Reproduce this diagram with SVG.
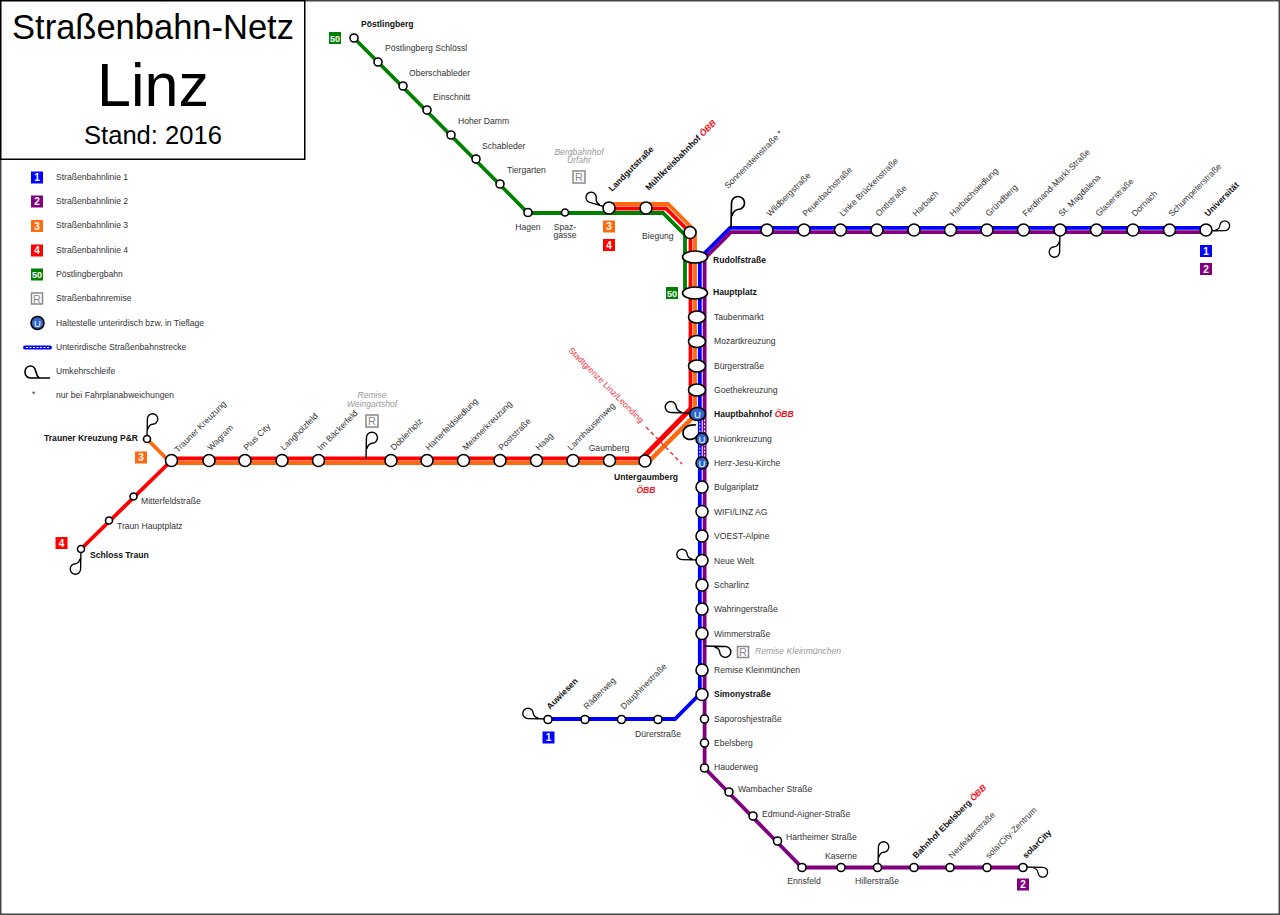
<svg xmlns="http://www.w3.org/2000/svg" width="1280" height="915" viewBox="0 0 1280 915">
<style>
text{font-family:"Liberation Sans",Arial,sans-serif;font-size:8.6px;fill:#333}
.b{font-weight:bold;fill:#111}
.g{font-style:italic;fill:#999}
.o{font-style:italic;font-weight:bold;fill:#f01020}
.st{fill:#fff;stroke:#000;stroke-width:1.6}
.ln{fill:none;stroke-width:3.8;stroke-linejoin:miter}
.dg{fill:none;stroke-width:5}
.lp{fill:none;stroke:#000;stroke-width:1.7}
.bd{font-weight:bold;font-size:10px;fill:#fff;text-anchor:middle}
.rb{fill:#fff;stroke:#888;stroke-width:1.5}
.rt{fill:#888;font-size:11px;text-anchor:middle}
.u{fill:#3366cc;stroke:#000;stroke-width:1.6}
.ut{fill:#fff;font-size:9.5px;text-anchor:middle}
.wd{fill:none;stroke:#fff;stroke-width:1;stroke-dasharray:2 1.5}
</style>
<defs>
<path id="lp" d="M0,0 L.5,-25 A6.5,6.5 0 1 1 7,-18.500 C4,-18 2,-16 1,-12"/>
</defs>
<rect x="0.75" y="0.75" width="1278.5" height="913.5" fill="#fff" stroke="#444" stroke-width="1.5"/>
<g id="title">
<rect x="0.75" y="0.75" width="304" height="158.5" fill="#fff" stroke="#000" stroke-width="1.5"/>
<text x="153" y="39" style="font-size:34.5px;fill:#000" text-anchor="middle">Straßenbahn-Netz</text>
<text x="153" y="106" style="font-size:61px;fill:#000" text-anchor="middle">Linz</text>
<text x="153" y="144" style="font-size:25.6px;fill:#000" text-anchor="middle">Stand: 2016</text>
</g>
<g id="legend">
<rect x="31" y="171.500" width="12" height="12" fill="#00f"/><text class="bd" x="37" y="181">1</text><text x="56" y="179.500">Straßenbahnlinie 1</text>
<rect x="31" y="195.500" width="12" height="12" fill="#800080"/><text class="bd" x="37" y="205">2</text><text x="56" y="204">Straßenbahnlinie 2</text>
<rect x="31" y="220" width="12" height="12" fill="#ff6a10"/><text class="bd" x="37" y="229.500">3</text><text x="56" y="228">Straßenbahnlinie 3</text>
<rect x="31" y="244.500" width="12" height="12" fill="#f00"/><text class="bd" x="37" y="254">4</text><text x="56" y="252.500">Straßenbahnlinie 4</text>
<rect x="31" y="268.500" width="12" height="12" fill="#008000"/><text class="bd" x="37" y="278" style="font-size:9px">50</text><text x="56" y="277">Pöstlingbergbahn</text>
<rect class="rb" x="31.500" y="293" width="11" height="11"/><text class="rt" x="37" y="302.500">R</text><text x="56" y="301">Straßenbahnremise</text>
<circle class="u" cx="37.500" cy="323" r="6.500"/><text class="ut" x="37.500" y="326.500">U</text><text x="56" y="325.500">Haltestelle unterirdisch bzw. in Tieflage</text>
<line x1="25" y1="347.500" x2="50" y2="347.500" stroke="#00f" stroke-width="4" stroke-linecap="round"/><line class="wd" x1="26" y1="347.500" x2="50" y2="347.500"/><text x="56" y="350">Unterirdische Straßenbahnstrecke</text>
<path class="lp" d="M50,378 H40 C38,378 37,376 36,372 C35,368 33,366 31,366 C27,366 25,369 25,372 C25,376 28,378 31,378 H40"/><text x="56" y="374">Umkehrschleife</text>
<text x="32" y="397">*</text><text x="56" y="398">nur bei Fahrplanabweichungen</text>
</g>
<g id="connectors">
<path class="ln" stroke="#008000" d="M354,38 L528,213 H663 L685,235 V293"/>
<path class="ln" stroke="#ff6a10" d="M609,204 H668 L695,231 V414 M647,463 H171 L147,439"/>
<path class="ln" stroke="#f00" d="M609,208.500 H666 L690.500,233 V409 M642,458.500 H175 L171,461 L81,549"/>
<path class="dg" stroke="#ff6a10" d="M695,415 L647,463"/>
<path class="dg" stroke="#f00" d="M691.500,408 L642,458.500"/>
<path class="ln" stroke="#00f" d="M1206,227.800 H730 L699.800,258 V694 L675,719 H548"/>
<path class="ln" stroke="#800080" d="M1206,232.200 H731 L704.600,258.500 V768 L802,867.500 H1023"/>
<path class="wd" d="M699.800,416 V468 M704.600,416 V468 M692,415 L645,462"/>
<line x1="646" y1="427" x2="682" y2="464" stroke="#f01020" stroke-width="1.2" stroke-dasharray="4 3"/>
<g class="lp">
<use href="#lp" transform="translate(731,228)"/>
<use href="#lp" transform="translate(1060,232) rotate(180) scale(.8)"/>
<use href="#lp" transform="translate(1206,231) rotate(90) scale(-.75,.75)"/>
<use href="#lp" transform="translate(609,208) rotate(-75) scale(.8)"/>
<use href="#lp" transform="translate(366,459) scale(.85)"/>
<use href="#lp" transform="translate(147,439) scale(.8)"/>
<use href="#lp" transform="translate(81,549) rotate(180) scale(.8)"/>
<use href="#lp" transform="translate(702,560) rotate(-90) scale(.8)"/>
<use href="#lp" transform="translate(692,413) rotate(-90) scale(.85)"/>
<path d="M696,425 C688,424 683,428 683,433 C683,439 690,441 695,438 L700,433"/>
<use href="#lp" transform="translate(704,646) rotate(90) scale(.85)"/>
<use href="#lp" transform="translate(1024,867) rotate(90) scale(.75)"/>
<use href="#lp" transform="translate(878,867) scale(.8)"/>
<use href="#lp" transform="translate(548,719) rotate(-90) scale(.8)"/>
</g>
</g>
<g id="n-poestlingberg"><circle class="st" cx="354" cy="38" r="4"/><text class="b" x="361" y="27">Pöstlingberg</text><rect x="329" y="32" width="12" height="12" fill="#008000"/><text class="bd" x="335" y="41.500" style="font-size:9px">50</text></g>
<g id="n-schloessl"><circle class="st" cx="378" cy="62" r="4"/><text x="385" y="51">Pöstlingberg Schlössl</text></g>
<g id="n-oberschableder"><circle class="st" cx="403" cy="86" r="4"/><text x="409" y="76">Oberschableder</text></g>
<g id="n-einschnitt"><circle class="st" cx="427" cy="110" r="4"/><text x="433" y="100">Einschnitt</text></g>
<g id="n-hoherdamm"><circle class="st" cx="451" cy="135" r="4"/><text x="458" y="124">Hoher Damm</text></g>
<g id="n-schableder"><circle class="st" cx="476" cy="159" r="4"/><text x="482" y="149">Schableder</text></g>
<g id="n-tiergarten"><circle class="st" cx="500" cy="184" r="4"/><text x="507" y="173">Tiergarten</text></g>
<g id="n-hagen"><circle class="st" cx="528" cy="212.500" r="4"/><text x="528" y="230" text-anchor="middle">Hagen</text></g>
<g id="n-spazgasse"><circle class="st" cx="565" cy="212.500" r="3.500"/><text x="565" y="230" text-anchor="middle">Spaz-</text><text x="565" y="238" text-anchor="middle">gasse</text></g>
<g id="n-bergbahnhof"><text class="g" x="579" y="155" text-anchor="middle">Bergbahnhof</text><text class="g" x="579" y="163" text-anchor="middle">Urfahr</text><rect class="rb" x="573" y="171" width="12" height="12"/><text class="rt" x="579" y="181">R</text></g>
<g id="n-landgutstrasse"><circle class="st" cx="609" cy="208" r="6"/><text class="b" transform="translate(612,192) rotate(-45)">Landgutstraße</text><rect x="603" y="220.500" width="12" height="12" fill="#ff6a10"/><text class="bd" x="609" y="230">3</text><rect x="603" y="239" width="12" height="12" fill="#f00"/><text class="bd" x="609" y="248.500">4</text></g>
<g id="n-muehlkreisbahnhof"><circle class="st" cx="646" cy="208" r="6"/><text transform="translate(649,191) rotate(-45)"><tspan class="b">Mühlkreisbahnhof </tspan><tspan class="o">ÖBB</tspan></text></g>
<g id="n-biegung"><circle class="st" cx="690" cy="232.500" r="6"/><text x="642" y="239">Biegung</text></g>
<g id="n-rudolfstrasse"><ellipse class="st" cx="695" cy="257" rx="12.500" ry="6"/><text class="b" x="713" y="263">Rudolfstraße</text></g>
<g id="n-hauptplatz"><ellipse class="st" cx="695" cy="293" rx="12.500" ry="6"/><text class="b" x="713" y="295">Hauptplatz</text><rect x="666" y="287" width="12" height="12" fill="#008000"/><text class="bd" x="672" y="296.500" style="font-size:9px">50</text></g>
<g id="n-taubenmarkt"><ellipse class="st" cx="697" cy="317" rx="8.500" ry="6"/><text x="714" y="320">Taubenmarkt</text></g>
<g id="n-mozartkreuzung"><ellipse class="st" cx="697" cy="341.500" rx="8.500" ry="6"/><text x="714" y="344">Mozartkreuzung</text></g>
<g id="n-buergerstrasse"><ellipse class="st" cx="697" cy="366" rx="8.500" ry="6"/><text x="714" y="369">Bürgerstraße</text></g>
<g id="n-goethekreuzung"><ellipse class="st" cx="697" cy="390" rx="8.500" ry="6"/><text x="714" y="393">Goethekreuzung</text></g>
<g id="n-hauptbahnhof"><ellipse class="u" cx="697.500" cy="414" rx="8" ry="6.500"/><text class="ut" x="697.500" y="417.500">U</text><text x="714" y="417"><tspan class="b">Hauptbahnhof </tspan><tspan class="o">ÖBB</tspan></text></g>
<g id="n-unionkreuzung"><circle class="u" cx="702" cy="439" r="6"/><text class="ut" x="702" y="442.500">U</text><text x="714" y="442">Unionkreuzung</text></g>
<g id="n-herzjesu"><circle class="u" cx="702" cy="463" r="6"/><text class="ut" x="702" y="466.500">U</text><text x="714" y="466">Herz-Jesu-Kirche</text></g>
<g id="n-bulgariplatz"><circle class="st" cx="702" cy="487" r="6"/><text x="714" y="490">Bulgariplatz</text></g>
<g id="n-wifi"><circle class="st" cx="702" cy="511.500" r="6"/><text x="714" y="514.500">WIFI/LINZ AG</text></g>
<g id="n-voest"><circle class="st" cx="702" cy="536" r="6"/><text x="714" y="539">VOEST-Alpine</text></g>
<g id="n-neuewelt"><circle class="st" cx="702" cy="560.500" r="6"/><text x="714" y="563.500">Neue Welt</text></g>
<g id="n-scharlinz"><circle class="st" cx="702" cy="585" r="6"/><text x="714" y="588">Scharlinz</text></g>
<g id="n-wahringerstrasse"><circle class="st" cx="702" cy="609" r="6"/><text x="714" y="612">Wahringerstraße</text></g>
<g id="n-wimmerstrasse"><circle class="st" cx="702" cy="633.500" r="6"/><text x="714" y="636.500">Wimmerstraße</text></g>
<g id="n-remise-kleinmuenchen-r"><rect class="rb" x="737.500" y="646.500" width="11" height="11"/><text class="rt" x="743" y="656">R</text><text class="g" x="755" y="654">Remise Kleinmünchen</text></g>
<g id="n-remisekleinmuenchen"><circle class="st" cx="702" cy="670" r="6"/><text x="714" y="673">Remise Kleinmünchen</text></g>
<g id="n-simonystrasse"><circle class="st" cx="702" cy="694.500" r="6"/><text class="b" x="714" y="697">Simonystraße</text></g>
<g id="n-saporoshjestrasse"><circle class="st" cx="704.500" cy="719" r="4"/><text x="714" y="721.500">Saporoshjestraße</text></g>
<g id="n-ebelsberg"><circle class="st" cx="704.500" cy="743" r="4"/><text x="714" y="746">Ebelsberg</text></g>
<g id="n-hauderweg"><circle class="st" cx="704.500" cy="768" r="4"/><text x="714" y="770">Hauderweg</text></g>
<g id="n-wambacher"><circle class="st" cx="729" cy="792" r="4"/><text x="738" y="792">Wambacher Straße</text></g>
<g id="n-edmund"><circle class="st" cx="753" cy="816" r="4"/><text x="762" y="817">Edmund-Aigner-Straße</text></g>
<g id="n-hartheimer"><circle class="st" cx="777.500" cy="841" r="4"/><text x="786" y="840">Hartheimer Straße</text></g>
<g id="n-ennsfeld"><circle class="st" cx="802" cy="867.500" r="4"/><text x="804" y="884" text-anchor="middle">Ennsfeld</text></g>
<g id="n-kaserne"><circle class="st" cx="841" cy="867.500" r="4"/><text x="841" y="859" text-anchor="middle">Kaserne</text></g>
<g id="n-hillerstrasse"><circle class="st" cx="877.500" cy="867.500" r="4"/><text x="877" y="884" text-anchor="middle">Hillerstraße</text></g>
<g id="n-bfebelsberg"><circle class="st" cx="914" cy="867.500" r="4"/><text transform="translate(916,859) rotate(-45)"><tspan class="b">Bahnhof Ebelsberg </tspan><tspan class="o">ÖBB</tspan></text></g>
<g id="n-neufelderstrasse"><circle class="st" cx="950" cy="867.500" r="4"/><text transform="translate(952,859) rotate(-45)">Neufelderstraße</text></g>
<g id="n-solarcityzentrum"><circle class="st" cx="987" cy="867.500" r="4"/><text transform="translate(989,859) rotate(-45)">solarCity-Zentrum</text></g>
<g id="n-solarcity"><circle class="st" cx="1023" cy="867.500" r="4"/><text class="b" transform="translate(1026,859) rotate(-45)">solarCity</text><rect x="1017" y="878.500" width="12" height="12" fill="#800080"/><text class="bd" x="1023" y="888">2</text></g>
<g id="n-auwiesen"><circle class="st" cx="548" cy="719.500" r="4"/><text class="b" transform="translate(550,710) rotate(-45)">Auwiesen</text><rect x="542.500" y="731.500" width="12" height="12" fill="#00f"/><text class="bd" x="548.500" y="741">1</text></g>
<g id="n-raedlerweg"><circle class="st" cx="585" cy="719.500" r="4"/><text transform="translate(587,710) rotate(-45)">Rädlerweg</text></g>
<g id="n-dauphinestrasse"><circle class="st" cx="621.500" cy="719.500" r="4"/><text transform="translate(624,710) rotate(-45)">Dauphinestraße</text></g>
<g id="n-duererstrasse"><circle class="st" cx="658" cy="719.500" r="4"/><text x="658" y="737" text-anchor="middle">Dürerstraße</text></g>
<g id="n-sonnenstein"><text transform="translate(728,189) rotate(-45)">Sonnensteinstraße *</text></g>
<g id="n-wildberg"><circle class="st" cx="767" cy="230" r="6"/><text transform="translate(770,217) rotate(-45)">Wildbergstraße</text></g>
<g id="n-peuerbach"><circle class="st" cx="804" cy="230" r="6"/><text transform="translate(806,217) rotate(-45)">Peuerbachstraße</text></g>
<g id="n-linkebruecken"><circle class="st" cx="840.500" cy="230" r="6"/><text transform="translate(843,217) rotate(-45)">Linke Brückenstraße</text></g>
<g id="n-ontl"><circle class="st" cx="877" cy="230" r="6"/><text transform="translate(879,217) rotate(-45)">Ontlstraße</text></g>
<g id="n-harbach"><circle class="st" cx="914" cy="230" r="6"/><text transform="translate(916,217) rotate(-45)">Harbach</text></g>
<g id="n-harbachsiedlung"><circle class="st" cx="950.500" cy="230" r="6"/><text transform="translate(953,217) rotate(-45)">Harbachsiedlung</text></g>
<g id="n-gruendberg"><circle class="st" cx="987" cy="230" r="6"/><text transform="translate(989,217) rotate(-45)">Gründberg</text></g>
<g id="n-ferdinand"><circle class="st" cx="1023.500" cy="230" r="6"/><text transform="translate(1026,217) rotate(-45)">Ferdinand-Markl-Straße</text></g>
<g id="n-magdalena"><circle class="st" cx="1060" cy="230" r="6"/><text transform="translate(1062,217) rotate(-45)">St. Magdalena</text></g>
<g id="n-glaser"><circle class="st" cx="1096.500" cy="230" r="6"/><text transform="translate(1099,217) rotate(-45)">Glaserstraße</text></g>
<g id="n-dornach"><circle class="st" cx="1133" cy="230" r="6"/><text transform="translate(1135,217) rotate(-45)">Dornach</text></g>
<g id="n-schumpeter"><circle class="st" cx="1169.500" cy="230" r="6"/><text transform="translate(1172,217) rotate(-45)">Schumpeterstraße</text></g>
<g id="n-universitaet"><circle class="st" cx="1206" cy="230" r="6"/><text class="b" transform="translate(1208,217) rotate(-45)">Universität</text><rect x="1200" y="245" width="12" height="12" fill="#00f"/><text class="bd" x="1206" y="254.500">1</text><rect x="1200" y="263" width="12" height="12" fill="#800080"/><text class="bd" x="1206" y="272.500">2</text></g>
<g id="n-traunerpr"><circle class="st" cx="147" cy="439" r="3.500"/><text class="b" x="44" y="441">Trauner Kreuzung P&amp;R</text><rect x="135" y="451.500" width="12" height="12" fill="#ff6a10"/><text class="bd" x="141" y="461">3</text></g>
<g id="n-mitterfeld"><circle class="st" cx="133.500" cy="496.500" r="3.500"/><text x="141" y="504">Mitterfeldstraße</text></g>
<g id="n-traunhp"><circle class="st" cx="109" cy="520.500" r="3.500"/><text x="117" y="529">Traun Hauptplatz</text></g>
<g id="n-schlosstraun"><circle class="st" cx="81" cy="549" r="3.500"/><text class="b" x="90" y="558">Schloss Traun</text><rect x="55.500" y="537" width="12" height="12" fill="#f00"/><text class="bd" x="61.500" y="546.500">4</text></g>
<g id="n-traunerkreuzung"><circle class="st" cx="171.500" cy="460.500" r="6"/><text transform="translate(178,453) rotate(-45)">Trauner Kreuzung</text></g>
<g id="n-wagram"><circle class="st" cx="209" cy="460.500" r="6"/><text transform="translate(211,451) rotate(-45)">Wagram</text></g>
<g id="n-pluscity"><circle class="st" cx="245" cy="460.500" r="6"/><text transform="translate(247,451) rotate(-45)">Plus City</text></g>
<g id="n-langholzfeld"><circle class="st" cx="282" cy="460.500" r="6"/><text transform="translate(284,451) rotate(-45)">Langholzfeld</text></g>
<g id="n-baeckerfeld"><circle class="st" cx="318.500" cy="460.500" r="6"/><text transform="translate(321,451) rotate(-45)">Im Bäckerfeld</text></g>
<g id="n-weingartshof"><text class="g" x="372" y="398" text-anchor="middle">Remise</text><text class="g" x="372" y="407" text-anchor="middle">Weingartshof</text><rect class="rb" x="366" y="415" width="12" height="12"/><text class="rt" x="372" y="425">R</text></g>
<g id="n-doblerholz"><circle class="st" cx="391" cy="460.500" r="6"/><text transform="translate(394,451) rotate(-45)">Doblerholz</text></g>
<g id="n-harterfeld"><circle class="st" cx="427" cy="460.500" r="6"/><text transform="translate(429,451) rotate(-45)">Harterfeldsiedlung</text></g>
<g id="n-meixner"><circle class="st" cx="463.500" cy="460.500" r="6"/><text transform="translate(466,451) rotate(-45)">Meixnerkreuzung</text></g>
<g id="n-post"><circle class="st" cx="500" cy="460.500" r="6"/><text transform="translate(502,451) rotate(-45)">Poststraße</text></g>
<g id="n-haag"><circle class="st" cx="536.500" cy="460.500" r="6"/><text transform="translate(539,451) rotate(-45)">Haag</text></g>
<g id="n-lannhausen"><circle class="st" cx="573" cy="460.500" r="6"/><text transform="translate(571,451) rotate(-45)">Lannhausenweg</text></g>
<g id="n-gaumberg"><circle class="st" cx="609.500" cy="460.500" r="6"/><text x="609" y="451" text-anchor="middle">Gaumberg</text></g>
<g id="n-untergaumberg"><circle class="st" cx="645" cy="461" r="6"/><text class="b" x="646" y="480" text-anchor="middle">Untergaumberg</text><text class="o" x="646" y="493" text-anchor="middle">ÖBB</text></g>
<text transform="translate(568,351) rotate(45)" style="fill:#f03040">Stadtgrenze Linz/Leonding</text>
</svg>
